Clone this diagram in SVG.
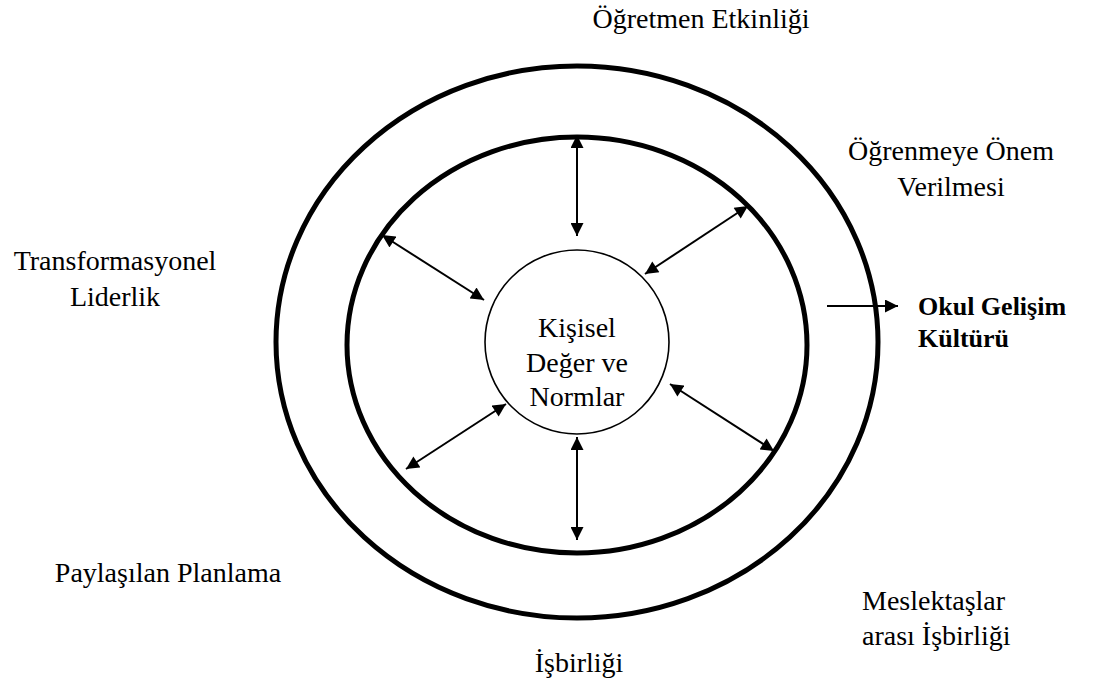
<svg xmlns="http://www.w3.org/2000/svg" width="1097" height="682" viewBox="0 0 1097 682">
<defs>
<style>
.ring{fill:none;stroke:#000;stroke-width:5}
.core{fill:#fff;stroke:#000;stroke-width:1.6}
.lbl{font-family:"Liberation Serif","Times New Roman",serif;font-size:28px;fill:#000}
.bold{font-weight:bold;font-size:26px}
.conn line{stroke:#000;stroke-width:2}
</style>
<marker id="ah" viewBox="0 0 10 10" refX="10" refY="5" markerWidth="7" markerHeight="7" orient="auto-start-reverse" markerUnits="userSpaceOnUse">
<path d="M0,0 L10,5 L0,10 Z" fill="#000"/>
</marker>
<marker id="ah2" viewBox="0 0 10 10" refX="10" refY="5" markerWidth="14" markerHeight="13" orient="auto-start-reverse" markerUnits="userSpaceOnUse">
<path d="M0,0 L10,5 L0,10 Z" fill="#000"/>
</marker>
</defs>
<rect width="1097" height="682" fill="#fff"/>
<g id="outer-ring"><ellipse class="ring" cx="577" cy="342" rx="301" ry="276"/></g>
<g id="inner-ring"><ellipse class="ring" cx="577" cy="345" rx="230" ry="208"/></g>
<g id="core"><circle class="core" cx="577" cy="342" r="92"/>
<text class="lbl" text-anchor="middle" x="577" y="337">Kişisel</text>
<text class="lbl" text-anchor="middle" x="577" y="372">Değer ve</text>
<text class="lbl" text-anchor="middle" x="577" y="406">Normlar</text>
</g>
<g class="conn" id="connectors">
<line x1="577" y1="236" x2="577" y2="135" marker-start="url(#ah2)" marker-end="url(#ah2)"/>
<line x1="484" y1="300" x2="382" y2="235" marker-start="url(#ah2)" marker-end="url(#ah2)"/>
<line x1="645" y1="274" x2="748" y2="206" marker-start="url(#ah2)" marker-end="url(#ah2)"/>
<line x1="670" y1="384" x2="774" y2="451" marker-start="url(#ah2)" marker-end="url(#ah2)"/>
<line x1="506" y1="404" x2="406" y2="469" marker-start="url(#ah2)" marker-end="url(#ah2)"/>
<line x1="577" y1="437" x2="577" y2="540" marker-start="url(#ah2)" marker-end="url(#ah2)"/>
<line x1="827" y1="306" x2="898" y2="306" marker-end="url(#ah2)"/>
</g>
<g id="label-ogretmen"><text class="lbl" text-anchor="middle" x="701" y="28">Öğretmen Etkinliği</text></g>
<g id="label-ogrenmeye"><text class="lbl" text-anchor="middle" x="951" y="160">Öğrenmeye Önem</text><text class="lbl" text-anchor="middle" x="951" y="196">Verilmesi</text></g>
<g id="label-transformasyonel"><text class="lbl" text-anchor="middle" x="115" y="270">Transformasyonel</text><text class="lbl" text-anchor="middle" x="115" y="306">Liderlik</text></g>
<g id="label-okul"><text class="lbl bold" x="918" y="315">Okul Gelişim</text><text class="lbl bold" x="918" y="347">Kültürü</text></g>
<g id="label-paylasilan"><text class="lbl" text-anchor="middle" x="168" y="582">Paylaşılan Planlama</text></g>
<g id="label-meslektaslar"><text class="lbl" x="862" y="610">Meslektaşlar</text><text class="lbl" x="862" y="645">arası İşbirliği</text></g>
<g id="label-isbirligi"><text class="lbl" text-anchor="middle" x="579" y="672">İşbirliği</text></g>
</svg>
